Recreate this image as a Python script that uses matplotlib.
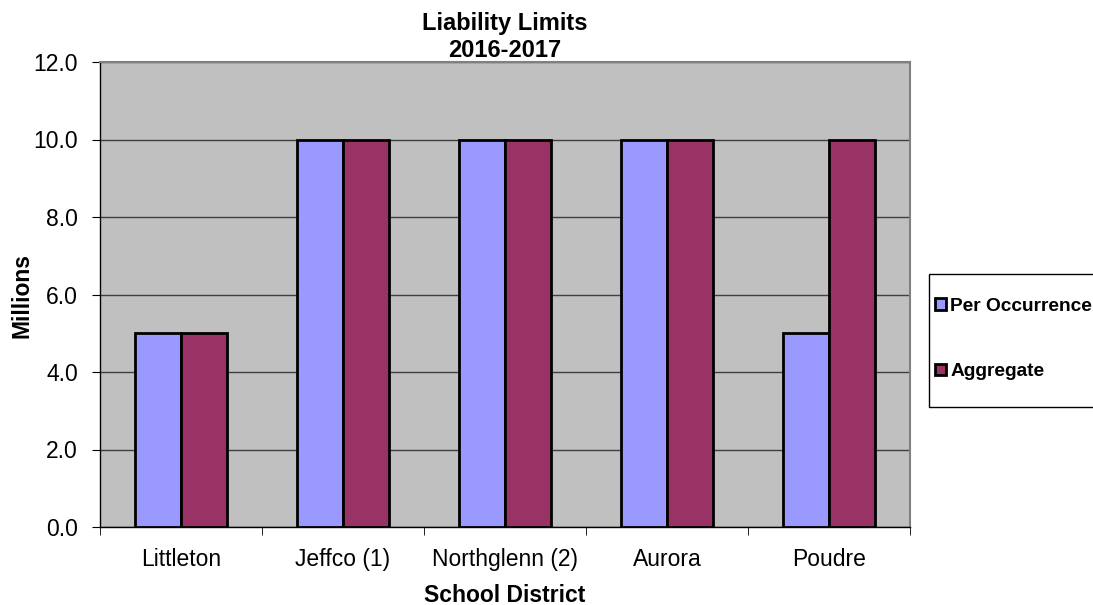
import matplotlib
matplotlib.use("Agg")
import matplotlib.pyplot as plt
import numpy as np
from matplotlib.patches import Rectangle

plt.rcParams['font.family'] = ['Liberation Sans', 'DejaVu Sans']

districts = ["Littleton", "Jeffco (1)", "Northglenn (2)", "Aurora", "Poudre"]
per_occurrence = [5.0, 10.0, 10.0, 10.0, 5.0]
aggregate = [5.0, 10.0, 10.0, 10.0, 10.0]
series_names = ["Per Occurrence", "Aggregate"]
yticks = [0.0, 2.0, 4.0, 6.0, 8.0, 10.0, 12.0]

W, H = 1093, 605
fig = plt.figure(figsize=(W/100, H/100), dpi=100)
ax = fig.add_axes([100/W, 1-527/H, 810/W, 465/H])
ax.set_facecolor('#C0C0C0')

x = np.arange(len(districts))
bw = 0.285
b1 = ax.bar(x - bw/2, per_occurrence, bw, color='#9999FF', edgecolor='black', linewidth=2, zorder=3, label=series_names[0])
b2 = ax.bar(x + bw/2, aggregate, bw, color='#993366', edgecolor='black', linewidth=2, zorder=3, label=series_names[1])

ax.set_xlim(-0.5, len(districts) - 0.5)
ax.set_ylim(0, 12)
ax.set_yticks(yticks)
ax.set_yticklabels([f"{v:.1f}" for v in yticks], fontsize=16.5)
ax.yaxis.grid(True, color='#404040', linewidth=1, zorder=1)
ax.set_axisbelow(True)

ax.set_xticks(x)
ax.set_xticklabels(districts, fontsize=16.5)
ax.tick_params(axis='x', length=0, pad=15)
ax.set_xticks(np.arange(-0.5, len(districts)), minor=True)
ax.tick_params(axis='x', which='minor', length=6, direction='out', color='black')
ax.tick_params(axis='y', length=6, direction='out', pad=10)

for s in ['top', 'right']:
    ax.spines[s].set_color('#808080')
    ax.spines[s].set_linewidth(1.5)
for s in ['left', 'bottom']:
    ax.spines[s].set_color('black')
    ax.spines[s].set_linewidth(1)

fig.text(505/W, 1-595/H, "School District", ha='center', va='center',
         fontsize=16.5, fontweight='bold')
fig.text(22/W, 1-296/H, "Millions", ha='center', va='center', rotation=90,
         fontsize=16.5, fontweight='bold')
fig.text(505/W, 1-37/H, "Liability Limits\n2016-2017", ha='center', va='center',
         fontsize=17, fontweight='bold', linespacing=1.2)

# legend box
fig.patches.append(Rectangle((929/W, 1-407/H), 200/W, 133/H, transform=fig.transFigure,
                             facecolor='white', edgecolor='black', linewidth=1))
fig.legend(handles=[b1, b2], labels=series_names, loc='center left',
           bbox_to_anchor=(935/W, 1-339/H), frameon=False,
           prop={'weight': 'bold', 'size': 13.8}, handlelength=0.55, handleheight=0.55,
           handletextpad=0.25, labelspacing=2.55, borderaxespad=0, borderpad=0)

fig.savefig("out.png", dpi=100)
